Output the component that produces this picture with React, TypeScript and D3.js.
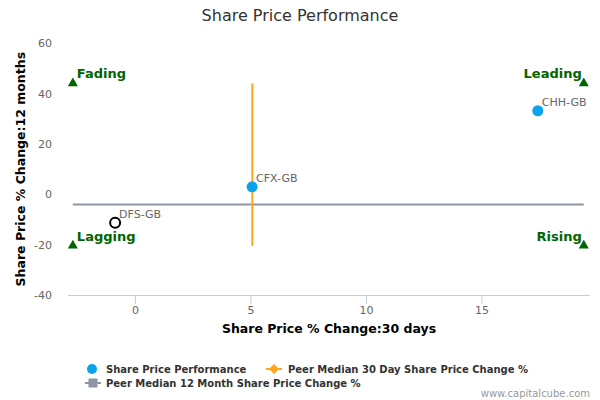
import React from 'react';
import * as d3 from 'd3';

// Companies: 30 day change (x) vs 12 month change (y)
const companies = ['CFX-GB', 'CHH-GB', 'DFS-GB'];
const change30d = [5.05, 17.42, -0.88];
const change12m = [3.0, 33.2, -11.3];
const highlighted = [false, false, true];

// Peer medians
const peerMedian30d = 5.06;
const peerMedian12m = -4.0;

// Quadrant markers
const quadrantNames = ['Fading', 'Leading', 'Lagging', 'Rising'];
const quadrantX = [-2.71, 19.41, -2.71, 19.41];
const quadrantY = [44.1, 44.1, -20.4, -20.4];

const xTicks = [0, 5, 10, 15];
const yTicks = [60, 40, 20, 0, -20, -40];

const W = 600;
const H = 400;
const font = '"DejaVu Sans", Verdana, sans-serif';

export default function App() {
  const x = d3.scaleLinear().domain([-2.92, 19.68]).range([68, 590]);
  const y = d3.scaleLinear().domain([-40, 60]).range([295, 43.3]);

  const blue = '#0ba3ee';
  const orange = '#ffa51e';
  const gray = '#8f96a3';
  const green = '#006400';

  return (
    <div style={{ position: 'absolute', left: 0, top: 0 }}>
      <svg width={W} height={H} style={{ display: 'block', fontFamily: font }}>
        <rect width={W} height={H} fill="#fff" />
        <text x={300} y={21} textAnchor="middle" fontSize={16} fill="#333">
          Share Price Performance
        </text>

        {/* y tick labels */}
        {yTicks.map(t => (
          <text key={t} x={52} y={y(t) + 4} textAnchor="end" fontSize={11} fill="#666">
            {t}
          </text>
        ))}

        {/* x axis */}
        <line x1={68} x2={590} y1={295.5} y2={295.5} stroke="#c0d0e0" />
        {xTicks.map(t => (
          <g key={t}>
            <line x1={x(t)} x2={x(t)} y1={295} y2={304} stroke="#c0d0e0" />
            <text x={x(t)} y={314} textAnchor="middle" fontSize={11} fill="#666">
              {t}
            </text>
          </g>
        ))}

        <text x={329} y={333} textAnchor="middle" fontSize={12.5} fontWeight="bold" fill="#000">
          Share Price % Change:30 days
        </text>
        <text
          transform={`translate(25,${(43.3 + 295) / 2}) rotate(-90)`}
          textAnchor="middle"
          fontSize={12.5}
          fontWeight="bold"
          fill="#000"
        >
          Share Price % Change:12 months
        </text>

        {/* peer median lines */}
        <line
          x1={x(d3.min(quadrantX)!)}
          x2={x(d3.max(quadrantX)!)}
          y1={y(peerMedian12m)}
          y2={y(peerMedian12m)}
          stroke={gray}
          strokeWidth={2}
        />
        <line
          x1={x(peerMedian30d)}
          x2={x(peerMedian30d)}
          y1={y(d3.max(quadrantY)!)}
          y2={y(d3.min(quadrantY)!)}
          stroke={orange}
          strokeWidth={2}
        />

        {/* quadrant markers */}
        {quadrantNames.map((name, i) => {
          const px = x(quadrantX[i]);
          const py = y(quadrantY[i]);
          const left = i % 2 === 0;
          return (
            <g key={name}>
              <path d={d3.symbol(d3.symbolTriangle, 44)()!} transform={`translate(${px},${py})`} fill={green} />
              <text
                x={left ? px + 4 : px - 2}
                y={py - 5}
                textAnchor={left ? 'start' : 'end'}
                fontSize={13}
                fontWeight="bold"
                fill={green}
              >
                {name}
              </text>
            </g>
          );
        })}

        {/* company points */}
        {companies.map((c, i) => {
          const px = x(change30d[i]);
          const py = y(change12m[i]);
          return (
            <g key={c}>
              {highlighted[i] ? (
                <circle cx={px} cy={py} r={5} fill="#fff" stroke="#000" strokeWidth={2} />
              ) : (
                <circle cx={px} cy={py} r={5.5} fill={blue} />
              )}
              <text x={px + 4} y={py - 5} fontSize={11} fill="#666">
                {c}
              </text>
            </g>
          );
        })}

        {/* legend */}
        <g fontSize={10} fontWeight="bold" fill="#333">
          <circle cx={92} cy={369} r={5} fill={blue} />
          <text x={106} y={372.5}>Share Price Performance</text>
          <line x1={266} x2={282} y1={369} y2={369} stroke={orange} strokeWidth={2} />
          <path d="M274,364 L279,369 L274,374 L269,369 Z" fill={orange} />
          <text x={288} y={372.5}>Peer Median 30 Day Share Price Change %</text>
          <line x1={85} x2={101} y1={383} y2={383} stroke={gray} strokeWidth={2} />
          <rect x={88.5} y={378.5} width={9} height={9} fill={gray} />
          <text x={106} y={386.5}>Peer Median 12 Month Share Price Change %</text>
        </g>

        <text x={590} y={397} textAnchor="end" fontSize={10} fill="#999">
          www.capitalcube.com
        </text>
      </svg>
    </div>
  );
}
